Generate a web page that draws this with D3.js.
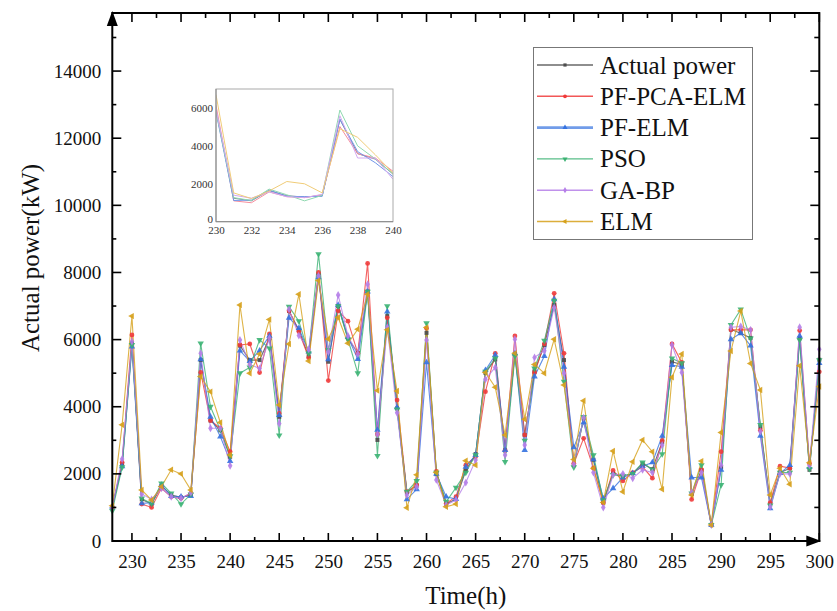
<!DOCTYPE html>
<html><head><meta charset="utf-8">
<script src="https://cdn.jsdelivr.net/npm/d3@7"></script>
<style>body{margin:0;background:#fff}svg{display:block}</style>
</head><body>
<svg id="c" width="837" height="611"></svg>
<script>
const startHour = 228;
const actual = [1000,2300,5900,1240,1100,1640,1370,1300,1370,5390,3590,3300,2510,5820,5390,5390,6040,3700,6850,6290,5500,7930,5340,7000,6040,5600,7430,3010,6700,3950,1450,1650,6200,1990,1100,1250,2100,2590,5010,5410,2700,5570,3160,5050,5840,7030,5390,2260,3650,2420,1150,2020,1920,2020,2300,2140,2950,5340,5250,1400,2110,480,2200,6300,6190,6050,3400,1100,2030,2170,6040,2120,5400];
const pfPcaElm = [1000,2340,6140,1100,1000,1570,1320,1270,1420,5020,3590,3360,2660,5840,5870,5020,6170,3800,6860,6240,5460,8000,4780,6860,6550,5590,8270,3180,6650,4200,1470,1670,6340,2070,1120,1320,2260,2510,4450,5590,2700,6110,3160,5020,5870,7380,5590,2310,3060,2170,1140,2100,1790,2040,2210,1870,2990,5870,5320,1240,2120,480,2660,6290,6290,6290,3300,1140,2230,2170,6270,2310,5040];
const pfElm = [1020,2220,5790,1120,1140,1670,1340,1320,1340,5410,3700,3110,2380,5670,5360,5670,6110,3750,6650,6340,5640,7850,5410,7030,6070,5420,7430,3310,6830,3980,1240,1540,5320,2000,1320,1250,2210,2560,5090,5540,2710,5590,2710,4900,5510,7200,5190,2790,3530,2430,1270,1570,1890,2020,2230,2340,3130,5240,5190,1890,1890,480,2120,6010,6190,5820,3130,970,2020,2260,6110,2200,5300];
const pso = [900,2200,5840,1270,1120,1720,1420,1100,1390,5890,4000,3310,2530,5000,5170,5990,5740,3150,6980,6550,5590,8550,5690,7000,6010,5000,7430,2540,7000,3920,1470,1790,6490,2040,1170,1590,2040,2560,5050,5440,2360,5510,2990,5140,5970,7160,4750,2200,3700,2560,1220,1970,1940,2000,2340,2130,2590,5440,5300,1420,2260,480,1670,6440,6900,6040,3460,1060,2040,2040,5990,2150,5390];
const gaBp = [1000,2440,5940,1400,1240,1570,1320,1270,1440,5590,3360,3360,2240,5990,5260,5140,6040,3500,6900,6120,5710,7900,5640,7330,6110,5570,7650,3180,6360,3820,1370,1620,5990,1820,1070,1220,1740,2410,4820,5170,2560,6010,2860,5470,5670,6960,5000,2290,3670,2040,1000,1970,2000,1870,2120,2040,2860,5840,5020,1440,2040,480,2260,6370,6390,6290,3260,1020,2000,2000,6370,2260,5710];
const elm = [1050,3460,6700,1520,1220,1620,2120,2000,1520,4900,4450,3530,2560,7030,5000,5570,6600,4050,5870,7350,5360,7760,6020,6660,5890,6310,7350,4480,6290,4470,990,1970,6360,2040,1020,1100,2390,2260,5020,4580,3160,5590,3630,5260,5000,6010,4650,2430,4180,2170,1150,2680,1470,2360,3010,2660,1540,4880,5570,1370,2380,480,3230,5660,6850,5290,4500,1370,2170,1690,5220,2330,4600];
const seriesNames = ["Actual power","PF-PCA-ELM","PF-ELM","PSO","GA-BP","ELM"];
const xTicks = [230,235,240,245,250,255,260,265,270,275,280,285,290,295,300];
const yTicks = [0,2000,4000,6000,8000,10000,12000,14000];
const insetXTicks = [230,232,234,236,238,240];
const insetYTicks = [0,2000,4000,6000];

const allData = [actual,pfPcaElm,pfElm,pso,gaBp,elm];
const colors = ["#4d4d4d","#f03a3a","#3572e0","#3bb273","#b57ee8","#d6a019"];
const insetColors = ["#7a8596","#f58c9c","#6f95e8","#8fd8b0","#d2a8f0","#f0cc78"];
const symbols = ["square","circle","triUp","triDown","diamond","triLeft"];

const svg = d3.select("#c");
const L=112.3, R=819.3, T=13, B=541;
const x = d3.scaleLinear().domain([228,300]).range([L,R]);
const y = d3.scaleLinear().domain([0,15730]).range([B,T]);
const font = "'Liberation Serif','Times New Roman',serif";

function symPath(kind){
  if(kind==="square") return d3.symbol(d3.symbolSquare,16)();
  if(kind==="circle") return d3.symbol(d3.symbolCircle,18)();
  if(kind==="diamond") return d3.symbol(d3.symbolDiamond,18)();
  return d3.symbol(d3.symbolTriangle,18)();
}
function symRot(kind){ return kind==="triDown"?180:(kind==="triLeft"?-90:0); }

// data lines
const g = svg.append("g");
allData.forEach((arr,i)=>{
  const pts = arr.map((v,k)=>[startHour+k,v]);
  g.append("path").datum(pts)
    .attr("fill","none").attr("stroke",colors[i]).attr("stroke-width",1.1)
    .attr("stroke-opacity",0.8)
    .attr("d",d3.line().x(d=>x(d[0])).y(d=>y(d[1])));
});
allData.forEach((arr,i)=>{
  const pts = arr.map((v,k)=>[startHour+k,v]);
  g.selectAll(null).data(pts).enter().append("path")
    .attr("d",symPath(symbols[i]))
    .attr("transform",d=>`translate(${x(d[0])},${y(d[1])}) rotate(${symRot(symbols[i])})`)
    .attr("fill",colors[i]).attr("fill-opacity",0.9);
});

// axes
const ax = svg.append("g");
ax.append("g").attr("transform",`translate(0,${B})`)
  .call(d3.axisBottom(x).tickValues(xTicks).tickSize(0).tickPadding(14).tickFormat(d3.format("d")))
  .call(s=>{s.select(".domain").remove(); s.selectAll("text").attr("font-family",font).attr("font-size",19).attr("fill","#111");});
ax.append("g").attr("transform",`translate(${L},0)`)
  .call(d3.axisLeft(y).tickValues(yTicks).tickSize(0).tickPadding(11).tickFormat(d3.format("d")))
  .call(s=>{s.select(".domain").remove(); s.selectAll("text").attr("font-family",font).attr("font-size",19).attr("fill","#111");});

// tick marks (inward) on all four sides
const minorX = d3.range(227.5,301,2.5).filter(v=>v>228&&v<300&&v%5!==0);
const minorY = d3.range(1000,15730,2000);
const tk = svg.append("g").attr("stroke","#000").attr("stroke-width",1.6);
xTicks.forEach(v=>{tk.append("line").attr("x1",x(v)).attr("x2",x(v)).attr("y1",B).attr("y2",B-8);
  tk.append("line").attr("x1",x(v)).attr("x2",x(v)).attr("y1",T).attr("y2",T+9);});
minorX.forEach(v=>{tk.append("line").attr("x1",x(v)).attr("x2",x(v)).attr("y1",B).attr("y2",B-4);
  tk.append("line").attr("x1",x(v)).attr("x2",x(v)).attr("y1",T).attr("y2",T+5);});
yTicks.forEach(v=>{tk.append("line").attr("x1",L).attr("x2",L+9).attr("y1",y(v)).attr("y2",y(v));
  tk.append("line").attr("x1",R).attr("x2",R-9).attr("y1",y(v)).attr("y2",y(v));});
minorY.forEach(v=>{tk.append("line").attr("x1",L).attr("x2",L+4).attr("y1",y(v)).attr("y2",y(v));
  tk.append("line").attr("x1",R).attr("x2",R-5).attr("y1",y(v)).attr("y2",y(v));});

// frame
svg.append("rect").attr("x",L).attr("y",T).attr("width",R-L).attr("height",B-T)
  .attr("fill","none").attr("stroke","#000").attr("stroke-width",2);
// arrows
svg.append("path").attr("d",`M${L},${T-2} L${L-5.5},${T+13} L${L+5.5},${T+13} Z`).attr("fill","#000");
svg.append("path").attr("d",`M${R+2},${B} L${R-13},${B-5.5} L${R-13},${B+5.5} Z`).attr("fill","#000");

// axis titles
svg.append("text").attr("x",(L+R)/2).attr("y",604).attr("text-anchor","middle")
  .attr("font-family",font).attr("font-size",25).attr("fill","#111").text("Time(h)");
svg.append("text").attr("transform","translate(39,258) rotate(-90)").attr("text-anchor","middle")
  .attr("font-family",font).attr("font-size",25).attr("fill","#111").text("Actual power(kW)");

// legend
const lg = svg.append("g");
lg.append("rect").attr("x",533.5).attr("y",47.5).attr("width",219).attr("height",192)
  .attr("fill","#fff").attr("stroke","#777").attr("stroke-width",1);
seriesNames.forEach((n,i)=>{
  const cy = 65 + i*31.3;
  lg.append("line").attr("x1",537).attr("x2",593).attr("y1",cy).attr("y2",cy)
    .attr("stroke",colors[i]).attr("stroke-width",i===2?2.6:1.4).attr("stroke-opacity",i===2?0.7:0.85);
  lg.append("path").attr("d",symPath(symbols[i]))
    .attr("transform",`translate(565,${cy}) rotate(${symRot(symbols[i])}) scale(0.8)`).attr("fill",colors[i]);
  lg.append("text").attr("x",600).attr("y",cy+8.5).attr("font-family",font).attr("font-size",25)
    .attr("fill","#111").text(n);
});

// inset
const iL=216, iR=393, iT=89, iB=221.7;
const ix = d3.scaleLinear().domain([230,240]).range([iL,iR]);
const iy = d3.scaleLinear().domain([0,7000]).range([iB,iT]);
const ig = svg.append("g");
ig.append("rect").attr("x",iL).attr("y",iT).attr("width",iR-iL).attr("height",iB-iT).attr("fill","#fff");
ig.append("clipPath").attr("id","ic").append("rect").attr("x",iL).attr("y",iT).attr("width",iR-iL).attr("height",iB-iT);
allData.forEach((arr,i)=>{
  const pts = arr.map((v,k)=>[startHour+k,v]).filter(d=>d[0]>=230&&d[0]<=240);
  ig.append("path").datum(pts).attr("clip-path","url(#ic)")
    .attr("fill","none").attr("stroke",insetColors[i]).attr("stroke-width",1)
    .attr("d",d3.line().x(d=>ix(d[0])).y(d=>iy(d[1])));
});
ig.append("rect").attr("x",iL).attr("y",iT).attr("width",iR-iL).attr("height",iB-iT)
  .attr("fill","none").attr("stroke","#aaa").attr("stroke-width",1);
ig.append("line").attr("x1",iL).attr("x2",iL).attr("y1",iT).attr("y2",iB).attr("stroke","#888");
ig.append("line").attr("x1",iL).attr("x2",iR).attr("y1",iB).attr("y2",iB).attr("stroke","#888");
ig.append("g").attr("transform",`translate(0,${iB})`)
  .call(d3.axisBottom(ix).tickValues(insetXTicks).tickSize(0).tickPadding(5).tickFormat(d3.format("d")))
  .call(s=>{s.select(".domain").remove(); s.selectAll("text").attr("font-family",font).attr("font-size",11).attr("fill","#333");});
ig.append("g").attr("transform",`translate(${iL},0)`)
  .call(d3.axisLeft(iy).tickValues(insetYTicks).tickSize(0).tickPadding(3).tickFormat(d3.format("d")))
  .call(s=>{s.select(".domain").remove(); s.selectAll("text").attr("font-family",font).attr("font-size",11).attr("fill","#333");
    s.selectAll(".tick").filter(d=>d===0).select("text").attr("dy","0.05em");});
</script>
</body></html>
